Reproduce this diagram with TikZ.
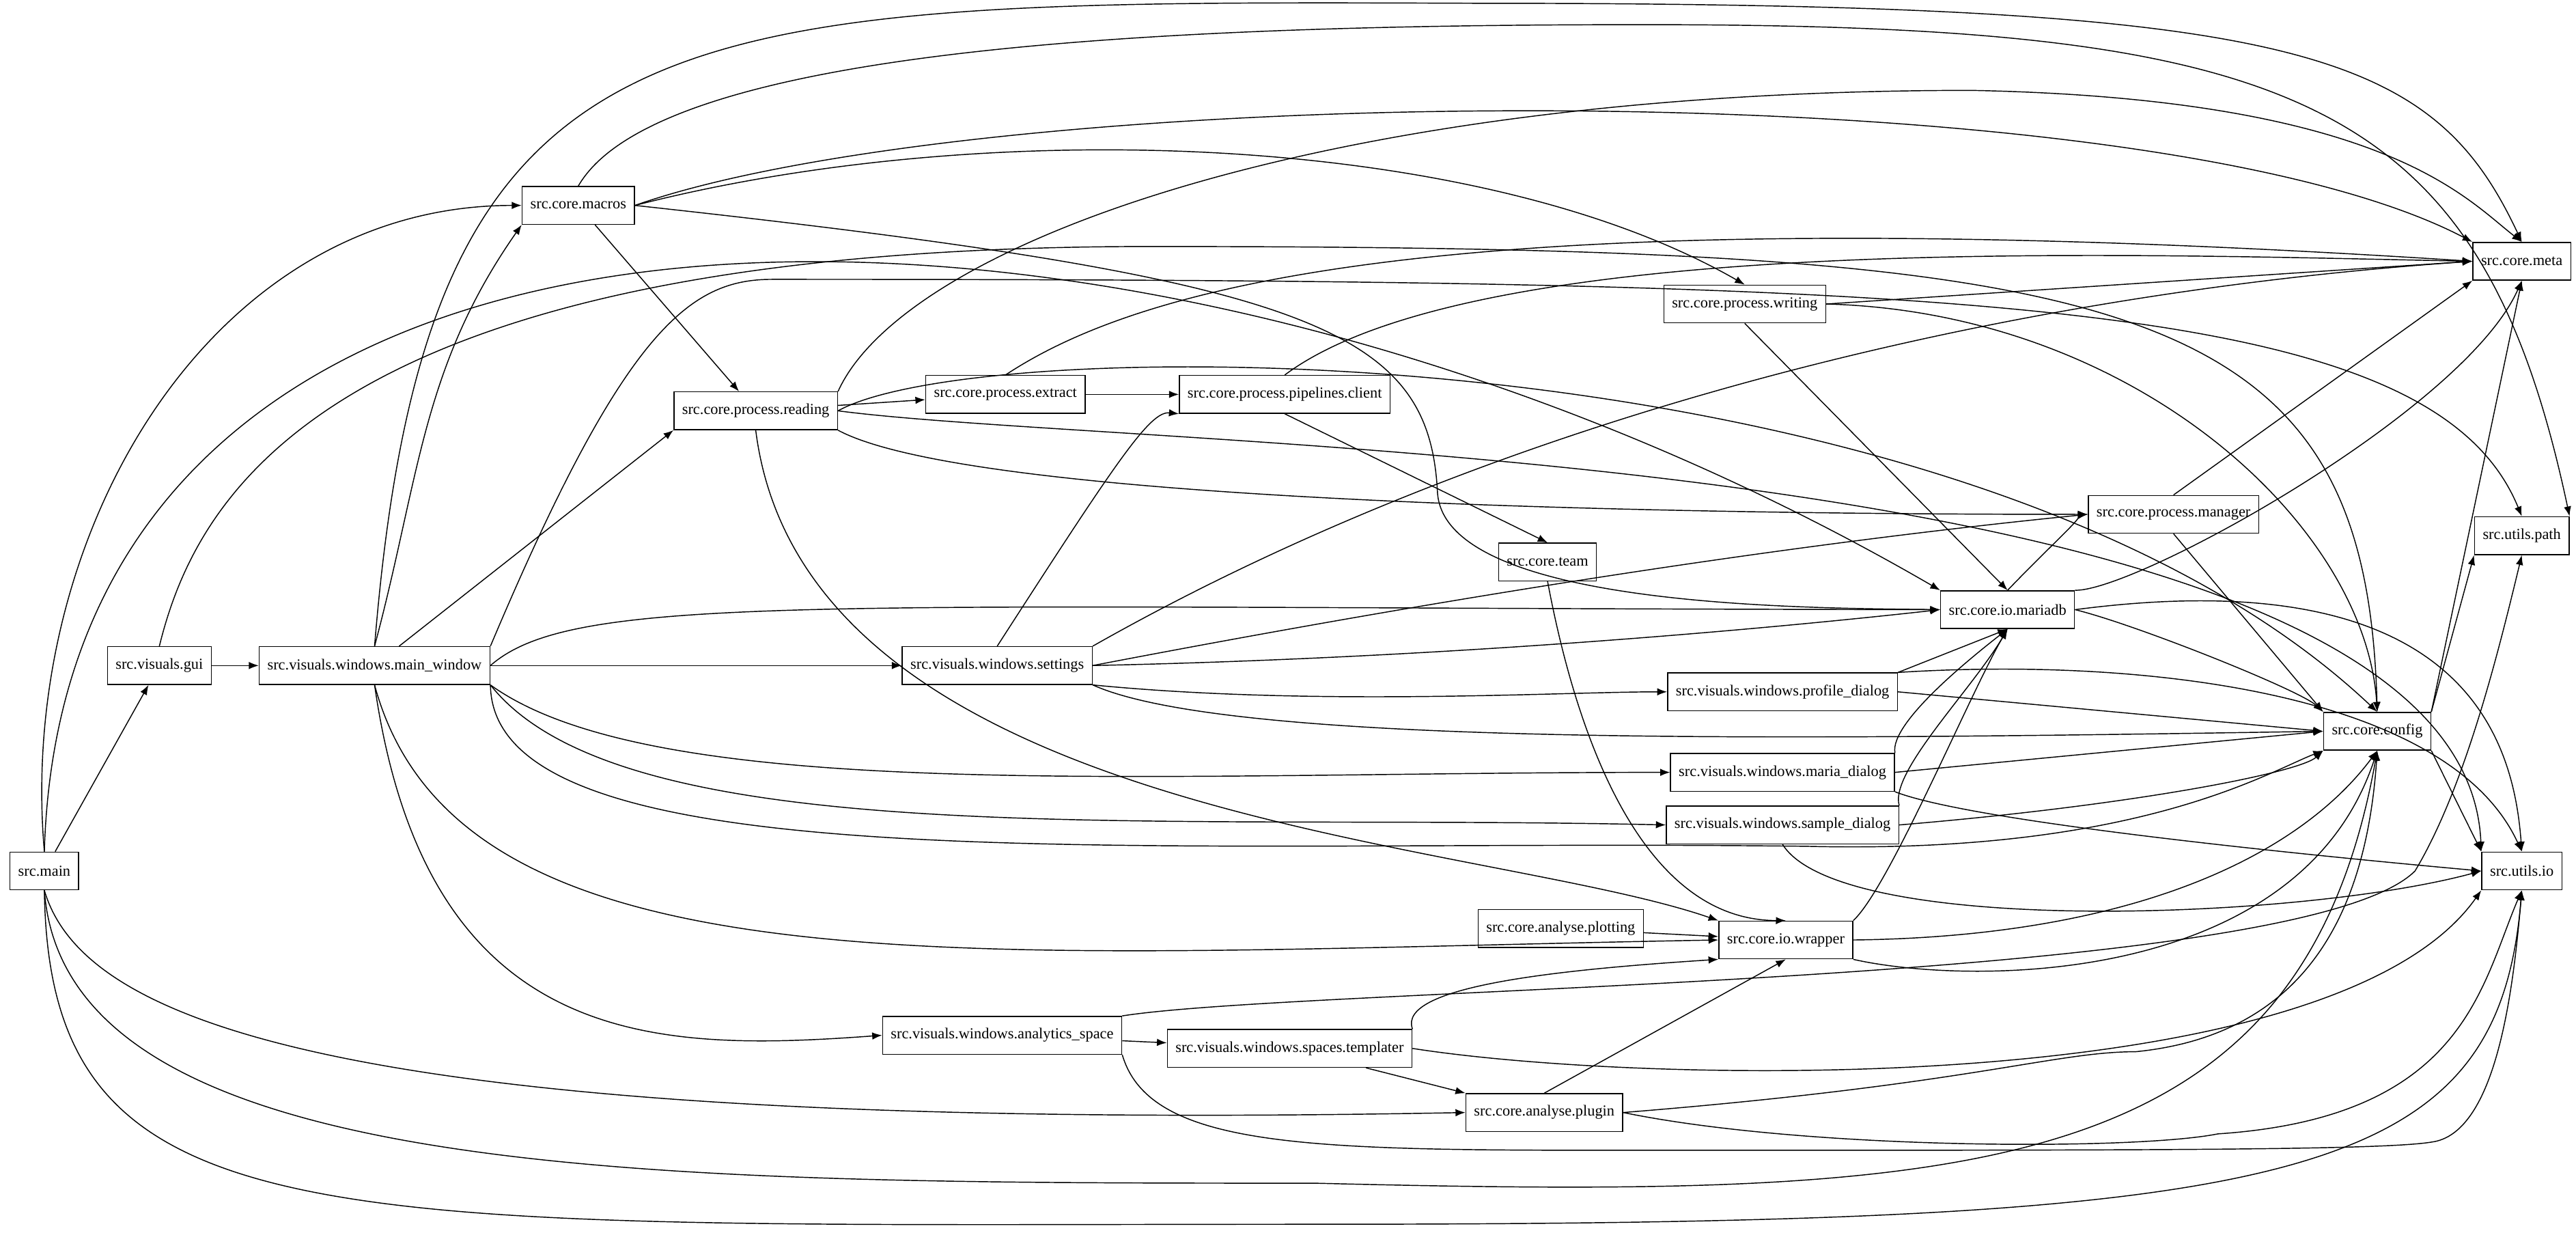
\documentclass[tikz,border=0pt]{standalone}
\usepackage{fontspec}
\setmainfont{Liberation Serif}
\usetikzlibrary{arrows.meta}
\begin{document}
\begin{tikzpicture}[x=1pt,y=-1pt,
 nd/.style={draw,line width=0.6pt,minimum height=23pt,inner xsep=5pt,font=\fontsize{9.3}{11}\selectfont},
 e/.style={-{Latex[length=6pt,width=4.5pt]},line width=0.6pt}]
\useasboundingbox (0,0) rectangle (1568,750);
\node[nd] (main) at (27,530) {src.main};
\node[nd] (gui) at (97,405) {src.visuals.gui};
\node[nd] (mw) at (228,405) {src.visuals.windows.main\_window};
\node[nd] (macros) at (352,125) {src.core.macros};
\node[nd] (reading) at (460,250) {src.core.process.reading};
\node[nd] (extract) at (612,240) {src.core.process.extract};
\node[nd] (pipe) at (782,240) {src.core.process.pipelines.client};
\node[nd] (writing) at (1062,185) {src.core.process.writing};
\node[nd] (meta) at (1535,159) {src.core.meta};
\node[nd] (upath) at (1535,326) {src.utils.path};
\node[nd] (manager) at (1323,313) {src.core.process.manager};
\node[nd] (team) at (942,342) {src.core.team};
\node[nd] (maria) at (1222,371) {src.core.io.mariadb};
\node[nd] (settings) at (607,405) {src.visuals.windows.settings};
\node[nd] (profile) at (1085,421) {src.visuals.windows.profile\_dialog};
\node[nd] (config) at (1447,445) {src.core.config};
\node[nd] (mdlg) at (1085,470) {src.visuals.windows.maria\_dialog};
\node[nd] (sdlg) at (1085,502) {src.visuals.windows.sample\_dialog};
\node[nd] (uio) at (1535,530) {src.utils.io};
\node[nd] (plot) at (950,565) {src.core.analyse.plotting};
\node[nd] (wrap) at (1087,572) {src.core.io.wrapper};
\node[nd] (ana) at (610,630) {src.visuals.windows.analytics\_space};
\node[nd] (tmpl) at (785,638) {src.visuals.windows.spaces.templater};
\node[nd] (plugin) at (940,677) {src.core.analyse.plugin};

\draw[e] (main) -- (gui);
\draw[e] (main.north) to[out=95,in=180] (macros.west);
\draw[e] (main.north) .. controls (40,60) and (700,80) .. (maria.north west);
\draw[e] (main.south) .. controls (50,620) and (200,690) .. (plugin.west);
\draw[e] (main.south) .. controls (40,720) and (400,720) .. (800,720) .. controls (1200,730) and (1400,720) .. (config.south);
\draw[e] (main.south) .. controls (30,760) and (200,745) .. (800,745) .. controls (1400,745) and (1520,720) .. (uio.south);
\draw[e] (gui) -- (mw);
\draw[e] (gui.north) .. controls (120,300) and (200,150) .. (700,150) .. controls (1300,150) and (1440,180) .. (config.north);
\draw[e] (mw.north) to[out=75,in=235] (macros.south west);
\draw[e] (mw.north) .. controls (260,0) and (400,0) .. (900,2) .. controls (1400,2) and (1480,30) .. (meta.north);
\draw[e] (mw) -- (reading.south west);
\draw[e] (mw) -- (settings);
\draw[e] (mw.east) .. controls (350,360) and (500,370) .. (maria.west);
\draw[e] (mw.south east) .. controls (400,490) and (700,470) .. (mdlg.west);
\draw[e] (mw.south east) .. controls (380,520) and (700,495) .. (sdlg.west);
\draw[e] (mw.south east) .. controls (300,540) and (700,510) .. (1100,515) .. controls (1300,520) and (1380,470) .. (config.south west);
\draw[e] (mw.south) .. controls (280,610) and (600,580) .. (wrap.west);
\draw[e] (mw.south) .. controls (260,640) and (400,640) .. (ana.west);
\draw[e] (mw.north east) .. controls (380,200) and (420,170) .. (470,170) .. controls (1200,170) and (1480,180) .. (upath.north);
\draw[e] (macros) -- (reading);
\draw[e] (macros.north) .. controls (400,30) and (700,15) .. (1000,15) .. controls (1400,15) and (1510,60) .. (upath.north east);
\draw[e] (macros.east) .. controls (600,50) and (1300,40) .. (meta.north west);
\draw[e] (macros.east) .. controls (600,70) and (900,80) .. (writing.north);
\draw[e] (macros.east) .. controls (800,170) and (870,200) .. (875,300) .. controls (880,370) and (1100,370) .. (maria.west);
\draw[e] (reading) -- (extract);
\draw[e] (reading.north east) .. controls (550,150) and (800,55) .. (1200,55) .. controls (1450,60) and (1500,120) .. (meta.north);
\draw[e] (reading.east) .. controls (600,200) and (1200,200) .. (config.north);
\draw[e] (reading.east) .. controls (700,275) and (1500,270) .. (uio.north west);
\draw[e] (reading.south east) .. controls (600,310) and (1100,313) .. (manager.west);
\draw[e] (reading.south) .. controls (490,500) and (900,510) .. (wrap.north west);
\draw[e] (extract) -- (pipe);
\draw[e] (extract.north) .. controls (700,170) and (900,120) .. (meta.west);
\draw[e] (pipe.north) .. controls (900,140) and (1300,155) .. (meta.west);
\draw[e] (pipe.south) -- (team.north);
\draw[e] (writing.east) -- (meta.west);
\draw[e] (writing.south) -- (maria.north);
\draw[e] (writing.east) .. controls (1300,190) and (1440,320) .. (config.north);
\draw[e] (settings.north) .. controls (680,280) and (700,250) .. (pipe.south west);
\draw[e] (settings.north east) .. controls (900,260) and (1200,180) .. (meta.west);
\draw[e] (settings.east) .. controls (900,360) and (1100,330) .. (manager.west);
\draw[e] (settings.east) .. controls (900,400) and (1100,380) .. (maria.west);
\draw[e] (settings.south east) .. controls (800,430) and (950,421) .. (profile.west);
\draw[e] (settings.south east) .. controls (750,455) and (1100,450) .. (config.west);
\draw[e] (team.south) .. controls (960,450) and (1000,560) .. (wrap.north);
\draw[e] (maria.east) .. controls (1300,380) and (1400,420) .. (config.north west);
\draw[e] (maria.north east) .. controls (1300,360) and (1500,250) .. (meta.south);
\draw[e] (maria.north) .. controls (1250,330) and (1270,313) .. (manager.west);
\draw[e] (maria.east) .. controls (1500,340) and (1530,450) .. (uio.north);
\draw[e] (manager.north) -- (meta.south west);
\draw[e] (manager.south) -- (config.north west);
\draw[e] (profile.north east) -- (maria.south);
\draw[e] (profile.east) -- (config.west);
\draw[e] (profile.north east) .. controls (1300,400) and (1490,420) .. (uio.north);
\draw[e] (mdlg.north east) .. controls (1150,440) and (1200,400) .. (maria.south);
\draw[e] (mdlg.east) -- (config.west);
\draw[e] (mdlg.south east) .. controls (1200,500) and (1400,520) .. (uio.west);
\draw[e] (sdlg.north east) .. controls (1150,470) and (1200,420) .. (maria.south);
\draw[e] (sdlg.east) .. controls (1300,490) and (1400,470) .. (config.south west);
\draw[e] (sdlg.south) .. controls (1120,570) and (1400,560) .. (uio.west);
\draw[e] (config.north east) -- (meta.south);
\draw[e] (config.north east) -- (upath.south west);
\draw[e] (config.south east) -- (uio.north west);
\draw[e] (plot) -- (wrap);
\draw[e] (wrap.north east) .. controls (1150,540) and (1200,420) .. (maria.south);
\draw[e] (wrap.east) .. controls (1300,570) and (1400,520) .. (config.south);
\draw[e] (wrap.south east) .. controls (1200,600) and (1400,600) .. (config.south);
\draw[e] (ana) -- (tmpl);
\draw[e] (ana.north east) .. controls (800,600) and (1400,600) .. (1470,530) .. controls (1500,480) and (1520,400) .. (upath.south);
\draw[e] (ana.south east) .. controls (700,700) and (800,700) .. (1000,700) .. controls (1300,700) and (1450,700) .. (1480,695) .. controls (1520,690) and (1530,600) .. (uio.south);
\draw[e] (tmpl.north east) .. controls (850,600) and (950,590) .. (wrap.south west);
\draw[e] (tmpl) -- (plugin.north west);
\draw[e] (tmpl.east) .. controls (1000,660) and (1420,670) .. (uio.south west);
\draw[e] (plugin.north) -- (wrap.south);
\draw[e] (plugin.east) .. controls (1200,660) and (1250,640) .. (1300,640) .. controls (1400,630) and (1440,560) .. (config.south);
\draw[e] (plugin.east) .. controls (1100,700) and (1300,700) .. (1350,690) .. controls (1500,680) and (1510,600) .. (uio.south);
\end{tikzpicture}
\end{document}
